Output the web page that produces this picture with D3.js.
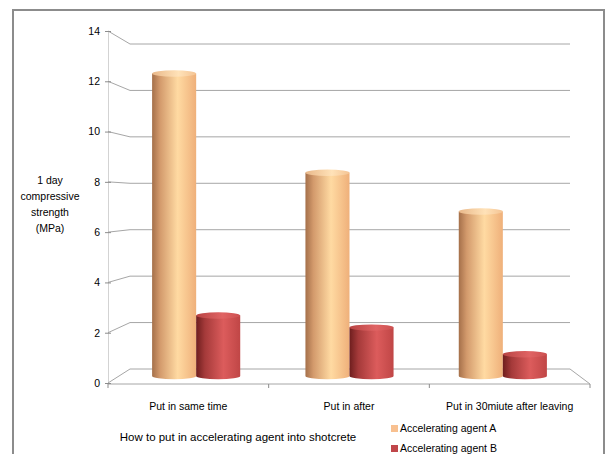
<!DOCTYPE html>
<html>
<head>
<meta charset="utf-8">
<script src="https://cdn.jsdelivr.net/npm/d3@7"></script>
<style>
  html, body { margin: 0; padding: 0; background: #fff; }
  svg text { font-family: "Liberation Sans", "Noto Sans", sans-serif; fill: #000; }
</style>
</head>
<body>
<svg id="chart" width="606" height="454"></svg>
<script>
// Data
const categories = ["Put in same time", "Put in after", "Put in 30miute after leaving"];
const seriesNames = ["Accelerating agent A", "Accelerating agent B"];
const agentA = [12.5, 8.4, 6.8];
const agentB = [2.5, 2.0, 0.9];
const yTicks = [0, 2, 4, 6, 8, 10, 12, 14];
const yTitle = ["1 day", "compressive", "strength", "(MPa)"];
const xTitle = "How to put in accelerating agent into shotcrete";

const svg = d3.select("#chart");
const defs = svg.append("defs");

// Gradients giving the cylinders their round shading
function cylGradient(id, stops) {
  const g = defs.append("linearGradient").attr("id", id)
    .attr("x1", "0%").attr("x2", "100%").attr("y1", "0%").attr("y2", "0%");
  stops.forEach(([o, c]) => g.append("stop").attr("offset", o).attr("stop-color", c));
}
cylGradient("gradA", [["0%", "#a5704a"], ["18%", "#d39a6c"], ["58%", "#ffdaa2"], ["100%", "#efb07a"]]);
cylGradient("gradB", [["0%", "#6e1e1e"], ["20%", "#a53a3a"], ["62%", "#dc5c5c"], ["100%", "#c04646"]]);
cylGradient("gradATop", [["0%", "#e9b88a"], ["60%", "#ffe2b8"], ["100%", "#f4c494"]]);
cylGradient("gradBTop", [["0%", "#b84444"], ["60%", "#e06464"], ["100%", "#cc5050"]]);

const seriesStyle = [
  { body: "url(#gradA)", top: "url(#gradATop)", legend: "#f8c090" },
  { body: "url(#gradB)", top: "url(#gradBTop)", legend: "#c0464a" }
];

// Outer chart frame
svg.append("rect").attr("x", 13).attr("y", 10).attr("width", 591).attr("height", 470)
  .attr("fill", "none").attr("stroke", "#8c8c8c").attr("stroke-width", 2);

// Scales: front plane (axis), back wall, and the depth where the bars stand
const yFront = d3.scaleLinear().domain([0, 14]).range([383, 31]);
const yBack = d3.scaleLinear().domain([0, 14]).range([369, 44]);
const yMid = d3.scaleLinear().domain([0, 14]).range([376, 37.2]);

const xFront = d3.scaleBand().domain(categories).range([108, 590]).paddingInner(0).paddingOuter(0);
const xBack = d3.scaleBand().domain(categories).range([130, 570]);
const xMid = d3.scaleBand().domain(categories).range([119.5, 579.5]);
const xSub = d3.scaleBand().domain(seriesNames).range([0, xMid.bandwidth()])
  .paddingInner(0).paddingOuter(0.74);

const gridColor = "#a6a6a6";
const x0 = xFront.range()[0], x1 = xFront.range()[1];
const bx0 = xBack.range()[0], bx1 = xBack.range()[1];

// Side wall + back wall gridlines
svg.append("g").selectAll("path").data(yTicks).join("path")
  .attr("d", v => `M${x0},${yFront(v)} L${bx0},${yBack(v)} L${bx1},${yBack(v)}`)
  .attr("fill", "none").attr("stroke", gridColor).attr("stroke-width", 1);

// Floor outline
svg.append("path")
  .attr("d", `M${x0},${yFront(0) + 1} L${x1},${yFront(0) + 1} L${bx1},${yBack(0)}`)
  .attr("fill", "none").attr("stroke", gridColor).attr("stroke-width", 1);

// Category separators on the floor front edge
svg.append("g").selectAll("line").data(d3.range(categories.length + 1)).join("line")
  .attr("x1", i => x0 + i * xFront.step()).attr("x2", i => x0 + i * xFront.step())
  .attr("y1", yFront(0) + 1).attr("y2", yFront(0) + 5)
  .attr("stroke", "#8c8c8c").attr("stroke-width", 1);

// Value axis
const yAxis = d3.axisLeft(yFront).tickValues(yTicks).tickSize(0).tickPadding(8);
const yG = svg.append("g").attr("transform", `translate(${x0},0)`).call(yAxis);
yG.select(".domain").attr("stroke", "#a6a6a6").attr("stroke-dasharray", "1,1");
yG.selectAll("text").style("font-size", "10.5px").attr("font-family", null);
yG.selectAll(".tick").append("line").attr("x1", -3).attr("x2", 3)
  .attr("stroke", "#8c8c8c");

// Category labels
const xAxis = d3.axisBottom(xFront).tickSize(0).tickPadding(0);
const xG = svg.append("g").attr("transform", `translate(0,${yFront(0) + 20})`).call(xAxis);
xG.select(".domain").remove();
xG.selectAll("text").style("font-size", "10.5px").attr("font-family", null);

// Cylindrical bars
const ry = 3.2;
const values = [agentA, agentB];
const barsG = svg.append("g");
seriesNames.forEach((s, si) => {
  const g = barsG.append("g");
  categories.forEach((c, ci) => {
    const v = values[si][ci];
    const left = xMid(c) + xSub(s);
    const w = xSub.bandwidth();
    const cx = left + w / 2;
    const yTop = yMid(v), yBot = yMid(0);
    const st = seriesStyle[si];
    g.append("path")
      .attr("d", `M${left},${yTop} L${left},${yBot} A${w / 2},${ry} 0 0 0 ${left + w},${yBot} L${left + w},${yTop} Z`)
      .attr("fill", st.body);
    g.append("ellipse").attr("cx", cx).attr("cy", yTop).attr("rx", w / 2).attr("ry", ry)
      .attr("fill", st.top);
  });
});

// Axis titles
svg.append("text").attr("x", 50).attr("text-anchor", "middle")
  .style("font-size", "10.5px")
  .selectAll("tspan").data(yTitle).join("tspan")
  .attr("x", 50).attr("y", (d, i) => 184 + i * 16).text(d => d);

svg.append("text").attr("x", 238).attr("y", 441).attr("text-anchor", "middle")
  .style("font-size", "11.5px").text(xTitle);

// Legend
const leg = svg.append("g").selectAll("g").data(seriesNames).join("g")
  .attr("transform", (d, i) => `translate(391,${425 + i * 20})`);
leg.append("rect").attr("width", 7).attr("height", 7)
  .attr("fill", (d, i) => seriesStyle[i].legend);
leg.append("text").attr("x", 9).attr("y", 7).style("font-size", "10.5px").text(d => d);
</script>
</body>
</html>
